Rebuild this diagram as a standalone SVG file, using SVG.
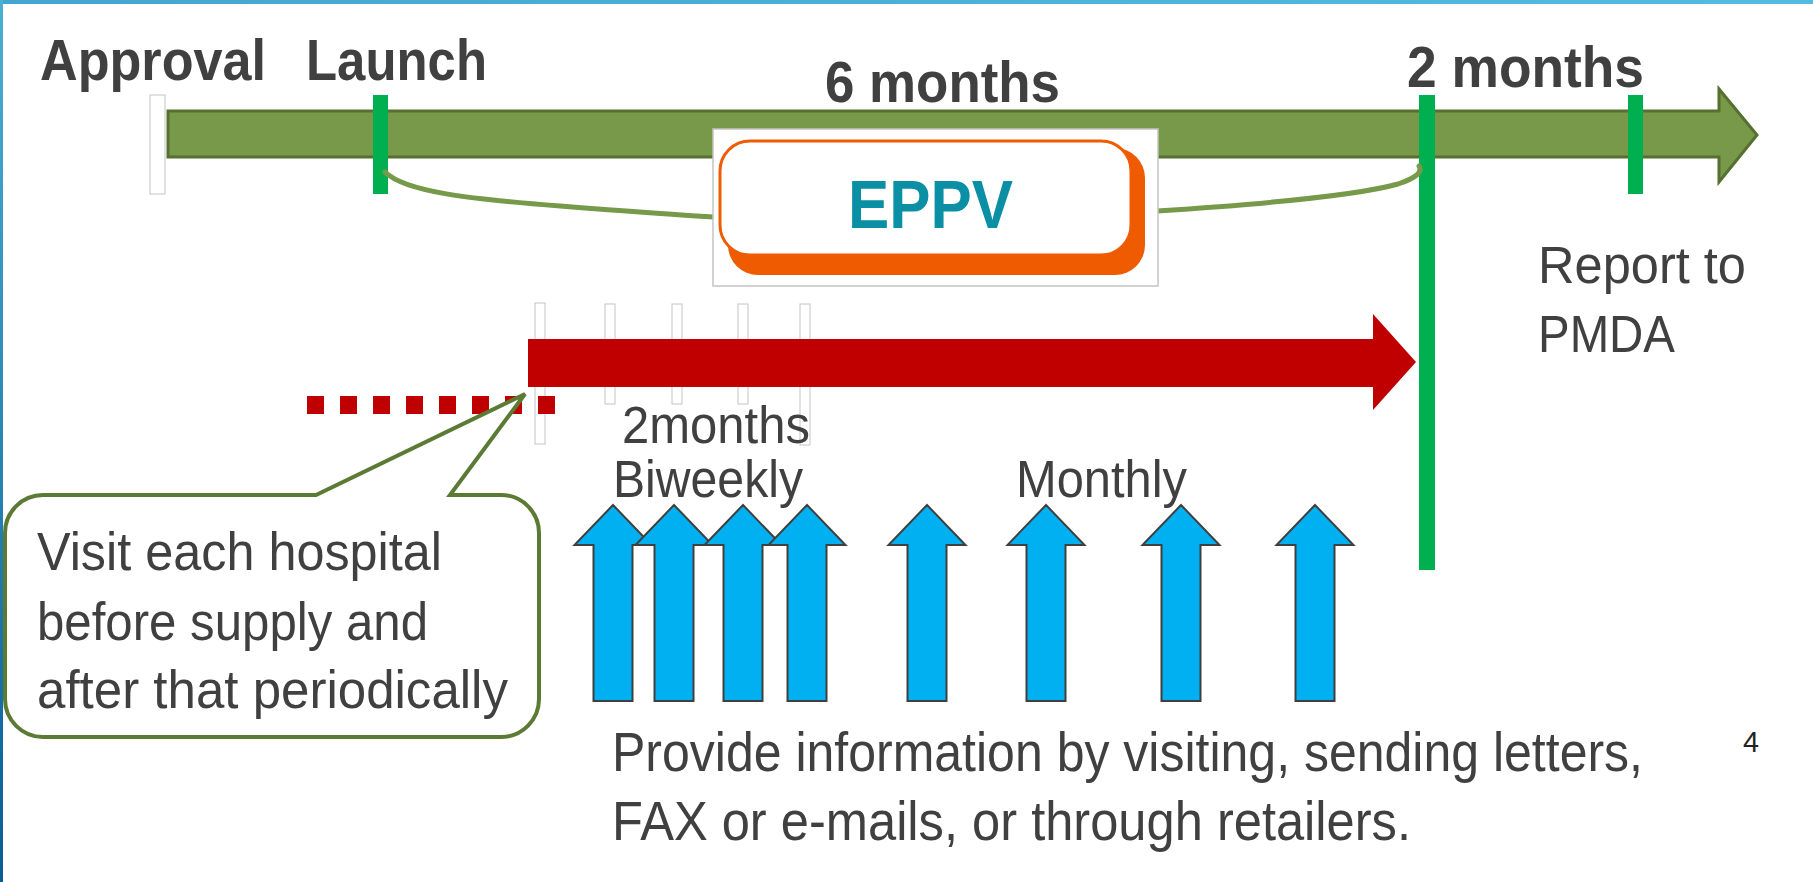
<svg xmlns="http://www.w3.org/2000/svg" width="1813" height="882" viewBox="0 0 1813 882">
  <defs>
    <linearGradient id="edgeLeft" x1="0" y1="0" x2="0" y2="1">
      <stop offset="0" stop-color="#4AAFD4"/>
      <stop offset="1" stop-color="#0A5C99"/>
    </linearGradient>
    <linearGradient id="edgeTop" x1="0" y1="0" x2="1" y2="0">
      <stop offset="0" stop-color="#44A6CE"/>
      <stop offset="1" stop-color="#52BCE0"/>
    </linearGradient>
    <!-- upward block arrow, centred on x=0 -->
    <path id="upArrow" d="M0 505 L38.5 545 L19.5 545 L19.5 701 L-19.5 701 L-19.5 545 L-38.5 545 Z"/>
  </defs>
  <style>
    .bold { font-family: "Liberation Sans", Arial, sans-serif; font-weight: bold; font-size: 57px; fill: #404040; }
    .lbl { font-family: "Liberation Sans", Arial, sans-serif; font-size: 51px; fill: #404040; }
    .call { font-family: "Liberation Sans", Arial, sans-serif; font-size: 53px; fill: #404040; }
    .body { font-family: "Liberation Sans", Arial, sans-serif; font-size: 55px; fill: #404040; }
    .tickG { fill: #00B050; }
    .tickW { fill: #FFFFFF; stroke: #C4C4C4; stroke-width: 1; }
    .blue { fill: #00B0F0; stroke: #3F3F3F; stroke-width: 2; stroke-linejoin: miter; }
    .bracket { fill: none; stroke: #76994A; stroke-width: 5; stroke-linecap: round; }
  </style>

  <rect width="1813" height="882" fill="#FFFFFF"/>
  <rect x="0" y="0" width="1813" height="4" fill="url(#edgeTop)"/>
  <rect x="0" y="0" width="3" height="882" fill="url(#edgeLeft)"/>

  <!-- small interval ticks behind the red arrow -->
  <g id="interval-ticks">
    <rect class="tickW" x="535" y="303" width="10" height="141"/>
    <rect class="tickW" x="605" y="304" width="10" height="100"/>
    <rect class="tickW" x="672" y="304" width="10" height="100"/>
    <rect class="tickW" x="738" y="304" width="10" height="100"/>
    <rect class="tickW" x="800" y="304" width="10" height="141"/>
  </g>

  <!-- main timeline -->
  <g id="timeline">
    <path d="M168 111 L1719 111 L1719 89 L1757 135 L1719 182 L1719 157 L168 157 Z" fill="#78994A" stroke="#55702F" stroke-width="3" stroke-linejoin="miter"/>
  </g>

  <g id="milestones">
    <rect class="tickW" x="150" y="95" width="15" height="99"/>
    <rect class="tickG" x="373" y="95" width="15" height="99"/>
    <rect class="tickG" x="1419" y="95" width="16" height="475"/>
    <rect class="tickG" x="1628" y="95" width="15" height="99"/>
  </g>

  <g id="connectors">
    <path class="bracket" d="M385 172 C405 192, 470 199, 560 206 S680 215, 714 217"/>
    <path class="bracket" d="M1157 211 C1250 205, 1355 196, 1398 184 C1416 178, 1423 172, 1419 166"/>
  </g>

  <!-- EPPV badge -->
  <g id="eppv">
    <rect x="713" y="129" width="445" height="157" fill="#FFFFFF" stroke="#C4C4C4" stroke-width="1.5"/>
    <rect x="728" y="148" width="417" height="127" rx="30" fill="#EF5B00"/>
    <rect x="720" y="141" width="411" height="114" rx="30" fill="#FFFFFF" stroke="#EF5B00" stroke-width="3"/>
    <text x="848" y="228" font-family="Liberation Sans, Arial, sans-serif" font-weight="bold" font-size="68" fill="#0A8FA4" textLength="165" lengthAdjust="spacingAndGlyphs">EPPV</text>
  </g>

  <!-- red period arrow with dotted lead-in -->
  <g id="red-arrow">
    <line x1="307" y1="405" x2="555" y2="405" stroke="#C00000" stroke-width="18" stroke-dasharray="17 16"/>
    <path d="M528 339 L1373 339 L1373 314 L1416 362 L1373 410 L1373 387 L528 387 Z" fill="#C00000"/>
  </g>

  <!-- callout -->
  <g id="callout">
    <path d="M43 495 L316 495 L525 394 L450 495 L501 495 A38 38 0 0 1 539 533 L539 699 A38 38 0 0 1 501 737 L43 737 A38 38 0 0 1 5 699 L5 533 A38 38 0 0 1 43 495 Z" fill="#FFFFFF" stroke="#5B7B34" stroke-width="4" stroke-linejoin="miter"/>
    <text class="call" x="37" y="570" textLength="405" lengthAdjust="spacingAndGlyphs">Visit each hospital</text>
    <text class="call" x="37" y="640" textLength="391" lengthAdjust="spacingAndGlyphs">before supply and</text>
    <text class="call" x="37" y="708" textLength="471" lengthAdjust="spacingAndGlyphs">after that periodically</text>
  </g>

  <!-- information arrows -->
  <g id="info-arrows">
    <use href="#upArrow" class="blue" transform="translate(613 0)"/>
    <use href="#upArrow" class="blue" transform="translate(674 0)"/>
    <use href="#upArrow" class="blue" transform="translate(743 0)"/>
    <use href="#upArrow" class="blue" transform="translate(807 0)"/>
    <use href="#upArrow" class="blue" transform="translate(927 0)"/>
    <use href="#upArrow" class="blue" transform="translate(1046 0)"/>
    <use href="#upArrow" class="blue" transform="translate(1181 0)"/>
    <use href="#upArrow" class="blue" transform="translate(1315 0)"/>
  </g>

  <!-- labels -->
  <g id="labels">
    <text class="bold" x="40" y="80" textLength="226" lengthAdjust="spacingAndGlyphs">Approval</text>
    <text class="bold" x="306" y="80" textLength="181" lengthAdjust="spacingAndGlyphs">Launch</text>
    <text class="bold" x="825" y="102" textLength="235" lengthAdjust="spacingAndGlyphs">6 months</text>
    <text class="bold" x="1407" y="87" textLength="237" lengthAdjust="spacingAndGlyphs">2 months</text>
    <text class="lbl" x="1538" y="283" textLength="208" lengthAdjust="spacingAndGlyphs">Report to</text>
    <text class="lbl" x="1538" y="352" textLength="137" lengthAdjust="spacingAndGlyphs">PMDA</text>
    <text class="lbl" x="622" y="443" textLength="188" lengthAdjust="spacingAndGlyphs">2months</text>
    <text class="lbl" x="613" y="497" textLength="190" lengthAdjust="spacingAndGlyphs">Biweekly</text>
    <text class="lbl" x="1016" y="497" textLength="171" lengthAdjust="spacingAndGlyphs">Monthly</text>
    <text class="body" x="612" y="771" textLength="1031" lengthAdjust="spacingAndGlyphs">Provide information by visiting, sending letters,</text>
    <text class="body" x="612" y="840" textLength="799" lengthAdjust="spacingAndGlyphs">FAX or e-mails, or through retailers.</text>
    <text x="1743" y="752" font-family="Liberation Sans, Arial, sans-serif" font-size="30" fill="#222222" textLength="16" lengthAdjust="spacingAndGlyphs">4</text>
  </g>
</svg>
